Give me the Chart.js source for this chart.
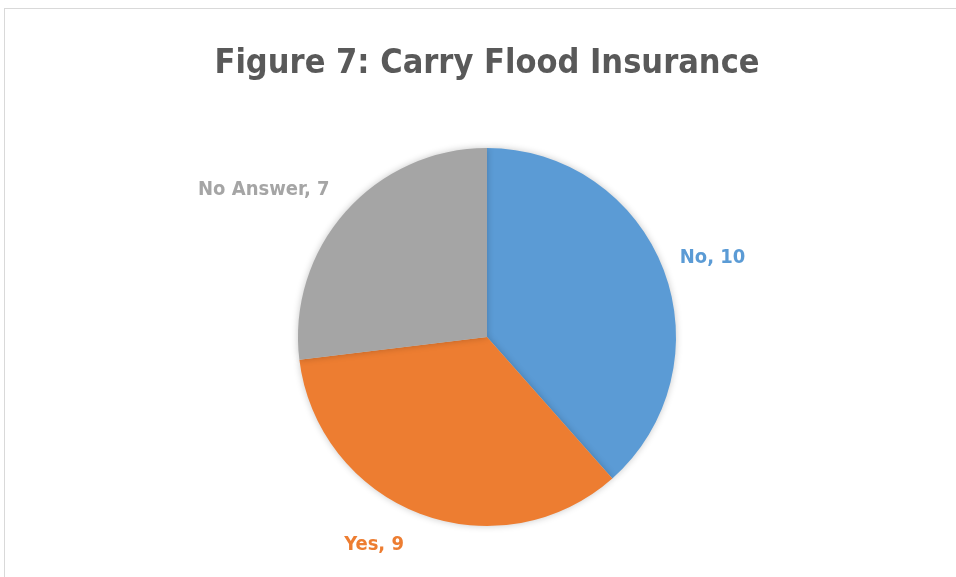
<!DOCTYPE html>
<html>
<head>
<meta charset="utf-8">
<script src="https://cdn.jsdelivr.net/npm/chart.js@4/dist/chart.umd.min.js"></script>
<style>
  html, body { margin: 0; padding: 0; background: #ffffff; }
  #wrap { position: relative; width: 956px; height: 577px; overflow: hidden; }
  #frame { position: absolute; left: 4px; top: 8px; width: 1000px; height: 700px; border: 1px solid #d9d9d9; box-sizing: border-box; }
  canvas { position: absolute; left: 0; top: 0; }
</style>
</head>
<body>
<div id="wrap">
  <div id="frame"></div>
  <canvas id="c" width="956" height="577"></canvas>
</div>
<script>
const titleText = "Figure 7: Carry Flood Insurance";
const categories = ["No", "Yes", "No Answer"];
const counts = [10, 9, 7];
const sliceColors = ["#5B9BD5", "#ED7D31", "#A5A5A5"];

const FONT = "'DejaVu Sans Condensed', 'Liberation Sans', sans-serif";

const shadowPlugin = {
  id: 'pieShadow',
  beforeDatasetsDraw(chart) {
    const ctx = chart.ctx;
    ctx.save();
    ctx.shadowColor = 'rgba(0,0,0,0.22)';
    ctx.shadowBlur = 7;
    ctx.shadowOffsetX = 0;
    ctx.shadowOffsetY = 0;
  },
  afterDatasetsDraw(chart) {
    chart.ctx.restore();
  }
};

const labelPlugin = {
  id: 'outsideLabels',
  afterDraw(chart) {
    const ctx = chart.ctx;
    const meta = chart.getDatasetMeta(0);
    ctx.save();
    ctx.font = "bold 20px " + FONT;
    ctx.textBaseline = 'middle';
    meta.data.forEach((arc, i) => {
      const p = arc.getProps(['x', 'y', 'startAngle', 'endAngle', 'outerRadius'], true);
      const mid = (p.startAngle + p.endAngle) / 2;
      const cos = Math.cos(mid), sin = Math.sin(mid);
      const ax = p.x + cos * p.outerRadius;
      const ay = p.y + sin * p.outerRadius;
      const text = categories[i] + ", " + counts[i];
      const w = ctx.measureText(text).width;
      const h = 20;
      const gap = 16;
      const cx = ax + Math.sign(cos) * (gap + w / 2);
      const cy = ay + sin * (23 + h / 2);
      ctx.fillStyle = sliceColors[i];
      ctx.textAlign = 'center';
      ctx.fillText(text, cx, cy);
    });
    ctx.restore();
  }
};

new Chart(document.getElementById('c'), {
  type: 'pie',
  data: {
    labels: categories,
    datasets: [{
      data: counts,
      backgroundColor: sliceColors,
      borderWidth: 0
    }]
  },
  options: {
    responsive: false,
    animation: false,
    layout: { padding: { left: 18, right: 0, top: 0, bottom: 51 } },
    plugins: {
      legend: { display: false },
      tooltip: { enabled: false },
      title: {
        display: true,
        text: titleText,
        color: '#595959',
        font: { family: FONT, size: 34, weight: 'bold', lineHeight: 1.2 },
        padding: { top: 44, bottom: 63.2 }
      }
    }
  },
  plugins: [shadowPlugin, labelPlugin]
});
</script>
</body>
</html>
